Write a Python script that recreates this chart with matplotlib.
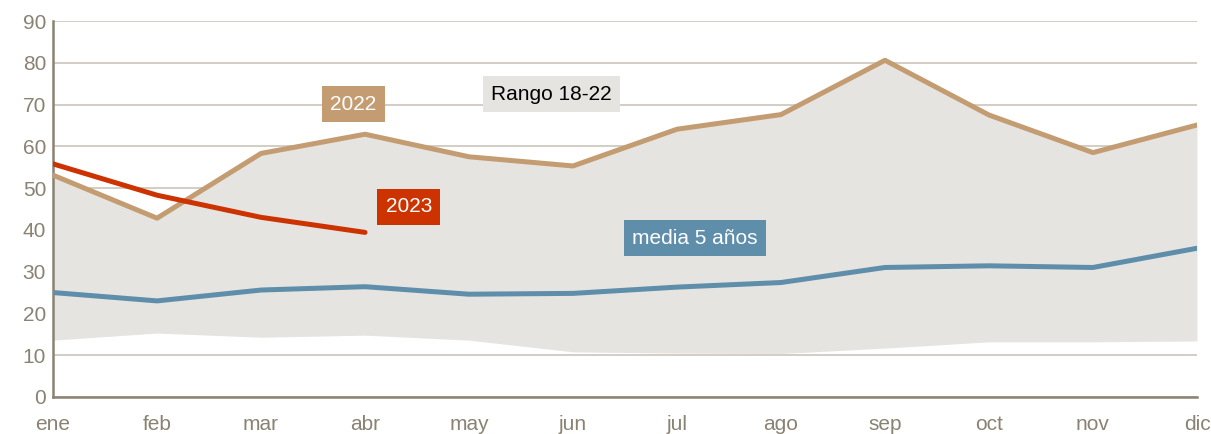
import numpy as np
import matplotlib.pyplot as plt

plt.rcParams['font.family'] = ['Liberation Sans', 'DejaVu Sans']

meses = ['ene', 'feb', 'mar', 'abr', 'may', 'jun', 'jul', 'ago', 'sep', 'oct', 'nov', 'dic']
serie_2022 = [53.1, 42.8, 58.3, 62.9, 57.5, 55.3, 64.1, 67.6, 80.6, 67.5, 58.5, 65.1]
serie_2023 = [55.8, 48.3, 43.0, 39.4]
media_5 = [25.0, 23.0, 25.6, 26.4, 24.6, 24.8, 26.3, 27.4, 31.0, 31.4, 31.0, 35.6]
rango_min = [13.6, 15.3, 14.3, 14.8, 13.6, 10.8, 10.5, 10.4, 11.7, 13.2, 13.2, 13.4]
rango_max = serie_2022

c_2022 = '#C49C72'
c_2023 = '#CC3300'
c_media = '#5F8EAB'
c_gris = '#8A8272'

fig, ax = plt.subplots(figsize=(12.11, 4.34), dpi=100)
fig.subplots_adjust(left=0.0438, right=0.9884, bottom=0.0853, top=0.9516)

x = np.arange(len(meses))
ax.fill_between(x, rango_min, rango_max, color='#E6E4E0', lw=0, zorder=1)
ax.plot(x, media_5, color=c_media, lw=3.6, zorder=3, solid_capstyle='round')
ax.plot(x, serie_2022, color=c_2022, lw=3.6, zorder=3, solid_capstyle='round')
ax.plot(x[:len(serie_2023)], serie_2023, color=c_2023, lw=3.6, zorder=4,
        solid_capstyle='round')

ax.set_xlim(0, 11)
ax.set_ylim(0, 90)
ax.set_yticks(range(0, 91, 10))
ax.set_xticks(x)
ax.set_xticklabels(meses)
ax.yaxis.grid(True, color='#CBC6BB', lw=1.2, zorder=0)
ax.set_axisbelow(True)
ax.tick_params(length=0, labelsize=15, colors=c_gris)
ax.tick_params(axis='x', pad=13)
ax.tick_params(axis='y', pad=5)
for s in ['top', 'right']:
    ax.spines[s].set_visible(False)
for s in ['left', 'bottom']:
    ax.spines[s].set_color(c_gris)
    ax.spines[s].set_linewidth(1.8)

def etiqueta(xp, yp, txt, fondo, color):
    ax.text(xp, yp, txt, ha='center', va='center', fontsize=15, color=color,
            zorder=5, bbox=dict(boxstyle='square,pad=0.4', fc=fondo, ec='none'))

etiqueta(2.89, 70.1, '2022', c_2022, 'white')
etiqueta(3.42, 45.5, '2023', c_2023, 'white')
etiqueta(4.79, 72.5, 'Rango 18-22', '#E6E4E0', 'black')
etiqueta(6.17, 38.0, 'media 5 años', c_media, 'white')

fig.savefig('out.png', dpi=100)
